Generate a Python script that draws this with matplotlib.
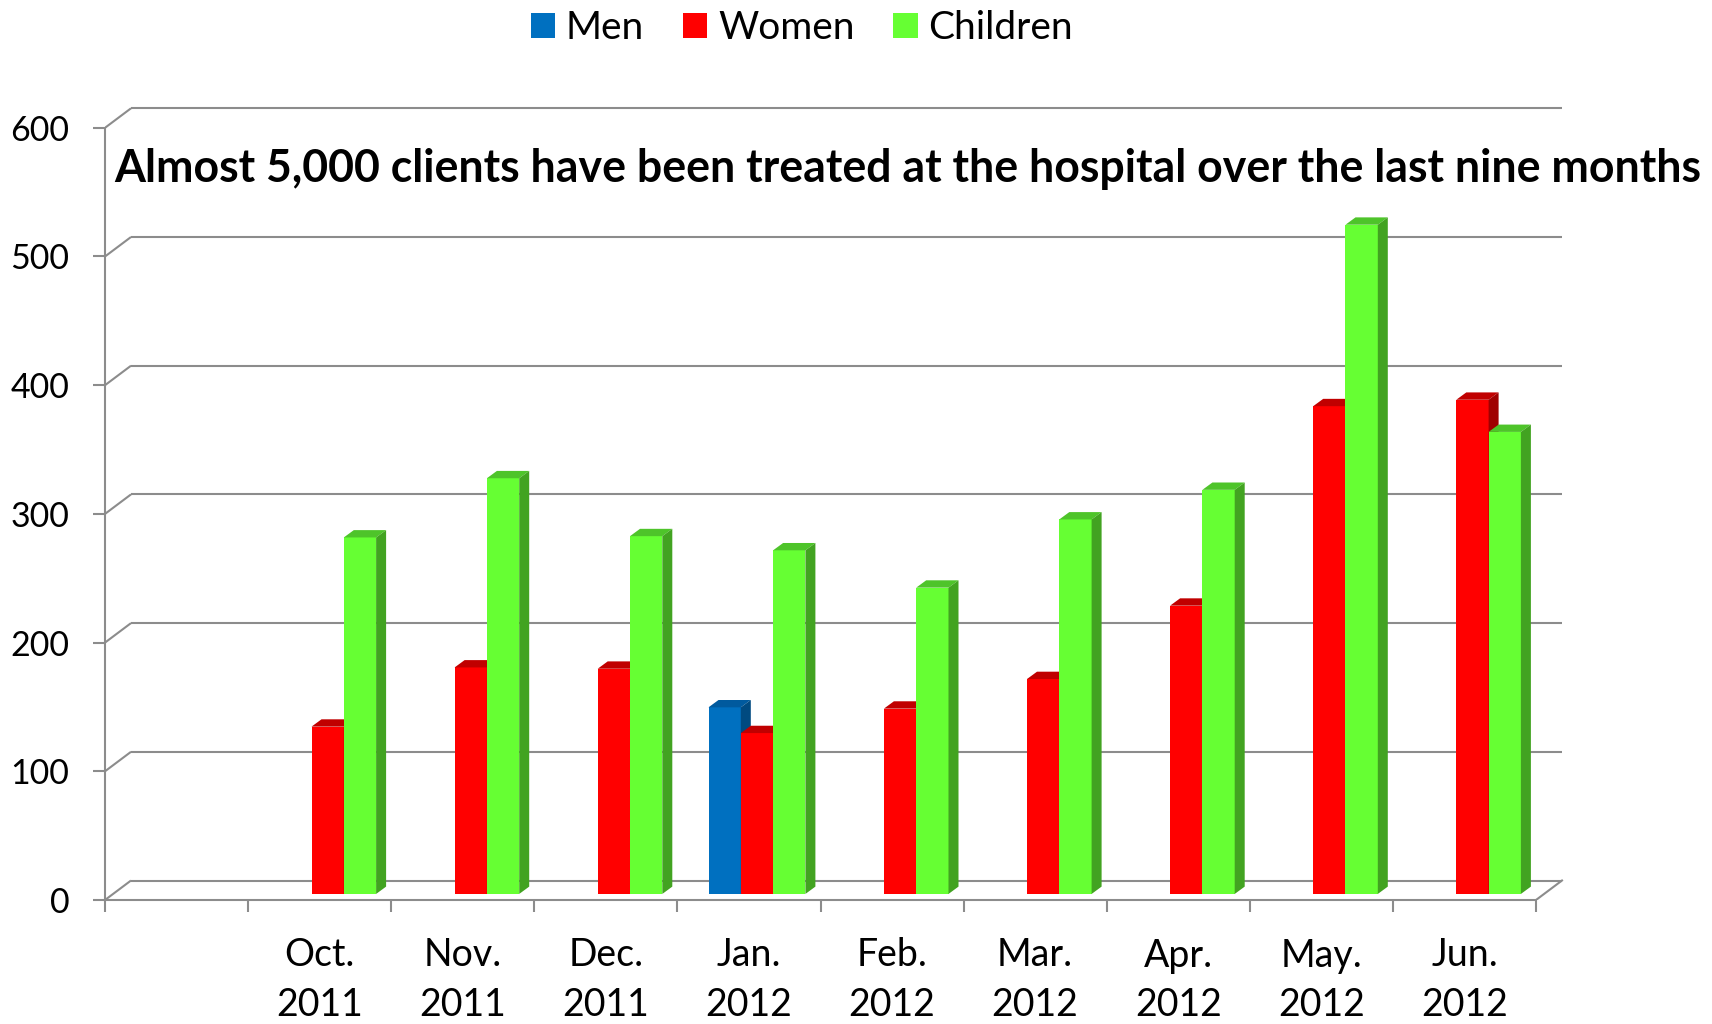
import matplotlib
matplotlib.use("Agg")
import matplotlib.pyplot as plt
from matplotlib.patches import Polygon, Patch
import numpy as np

# ---------------- data ----------------
categories = ["", "Oct.\n2011", "Nov.\n2011", "Dec.\n2011", "Jan.\n2012", "Feb.\n2012",
              "Mar.\n2012", "Apr.\n2012", "May.\n2012", "Jun.\n2012"]
men = [np.nan, np.nan, np.nan, np.nan, 145, np.nan, np.nan, np.nan, np.nan, np.nan]
women = [np.nan, 130, 176, 175, 125, 144, 167, 224, 379, 384]
children = [np.nan, 277, 323, 278, 267, 238, 291, 314, 520, 359]
series_names = ["Men", "Women", "Children"]
y_ticks = [0, 100, 200, 300, 400, 500, 600]
title = "Almost 5,000 clients have been treated at the hospital over the last nine months"

# ---------------- style ----------------
plt.rcParams["font.family"] = ["Lato", "DejaVu Sans"]
front_cols = ["#0070C0", "#FF0000", "#66FF33"]
top_cols = ["#005A9E", "#C00000", "#4EC42A"]
side_cols = ["#004A80", "#A00000", "#42A321"]
grid_col = "#8C8C8C"
lw = 1.5

W, H = 1712, 1024
fig = plt.figure(figsize=(W / 100, H / 100), dpi=100)

px_per_slot = 143.1
px_per_unit = 1.287
ax_left_px, ax_bottom_px = 105, 900
xmax, ymax = 10.25, 625
ax = fig.add_axes([ax_left_px / W, (H - ax_bottom_px) / H,
                   xmax * px_per_slot / W, ymax * px_per_unit / H])
ax.set_xlim(0, xmax)
ax.set_ylim(0, ymax)

# 3-D offsets (in data units)
wall_dx, wall_dy = 26 / px_per_slot, 19.5 / px_per_unit
bar_dx, bar_dy = 8 / px_per_slot, 4.7
depth_dx, depth_dy = 10 / px_per_slot, 5.7
bw = 32.3 / px_per_slot

n = len(categories)
# spines
for s in ["top", "right"]:
    ax.spines[s].set_visible(False)
ax.spines["left"].set_bounds(0, y_ticks[-1])
ax.spines["bottom"].set_bounds(0, n)
for s in ["left", "bottom"]:
    ax.spines[s].set_color(grid_col)
    ax.spines[s].set_linewidth(lw)

# back wall gridlines + diagonals
for v in y_ticks:
    ax.plot([0, wall_dx], [v, v + wall_dy], color=grid_col, lw=lw, zorder=1,
            solid_capstyle="butt")
    ax.plot([wall_dx, n + wall_dx], [v + wall_dy, v + wall_dy], color=grid_col,
            lw=lw, zorder=1, solid_capstyle="butt")
ax.plot([n, n + wall_dx], [0, wall_dy], color=grid_col, lw=lw, zorder=1)

# ticks
ax.set_yticks(y_ticks)
ax.set_yticklabels([str(v) for v in y_ticks], fontsize=24.5)
ax.tick_params(axis="y", length=8.6, width=lw, color=grid_col, pad=17)
ax.set_xticks(np.arange(0, n + 1))
ax.set_xticklabels([])
ax.tick_params(axis="x", which="major", length=8.6, width=lw, color=grid_col)
ax.set_xticks(np.arange(n) + 0.5, minor=True)
ax.set_xticklabels(categories, minor=True, fontsize=27, linespacing=1.46)
ax.tick_params(axis="x", which="minor", length=0, pad=27)

# bars
all_series = [men, women, children]
z = 3
for i in range(n):
    center = i + 0.5 + bar_dx
    for k, vals in enumerate(all_series):
        v = vals[i]
        x0 = center - 1.5 * bw + k * bw
        if np.isnan(v):
            continue
        ax.bar(x0, v, width=bw, bottom=bar_dy, align="edge",
               color=front_cols[k], edgecolor="none", zorder=z)
        x1 = x0 + bw
        ytop = bar_dy + v
        top = Polygon([(x0, ytop), (x1, ytop), (x1 + depth_dx, ytop + depth_dy),
                       (x0 + depth_dx, ytop + depth_dy)], closed=True,
                      facecolor=top_cols[k], edgecolor="none", zorder=z)
        side = Polygon([(x1, bar_dy), (x1 + depth_dx, bar_dy + depth_dy),
                        (x1 + depth_dx, ytop + depth_dy), (x1, ytop)], closed=True,
                       facecolor=side_cols[k], edgecolor="none", zorder=z)
        ax.add_patch(top)
        ax.add_patch(side)
        z += 1

# legend
leg_handles = [Patch(facecolor=c, edgecolor="none") for c in front_cols]
fig.legend(leg_handles, series_names, loc="center", ncol=3,
           bbox_to_anchor=(802 / W, 1 - 28 / H), frameon=False, fontsize=28,
           handlelength=0.62, handleheight=0.62, handletextpad=0.28,
           columnspacing=1.0, borderpad=0.2)

# title fitted to width
t = fig.text(908 / W, 1 - 169 / H, title, ha="center", va="center",
             fontsize=28, fontweight="bold")
fig.canvas.draw()
wpx = t.get_window_extent().width
t.set_fontsize(28 * 1587 / wpx)

fig.savefig("out.png", dpi=100)
